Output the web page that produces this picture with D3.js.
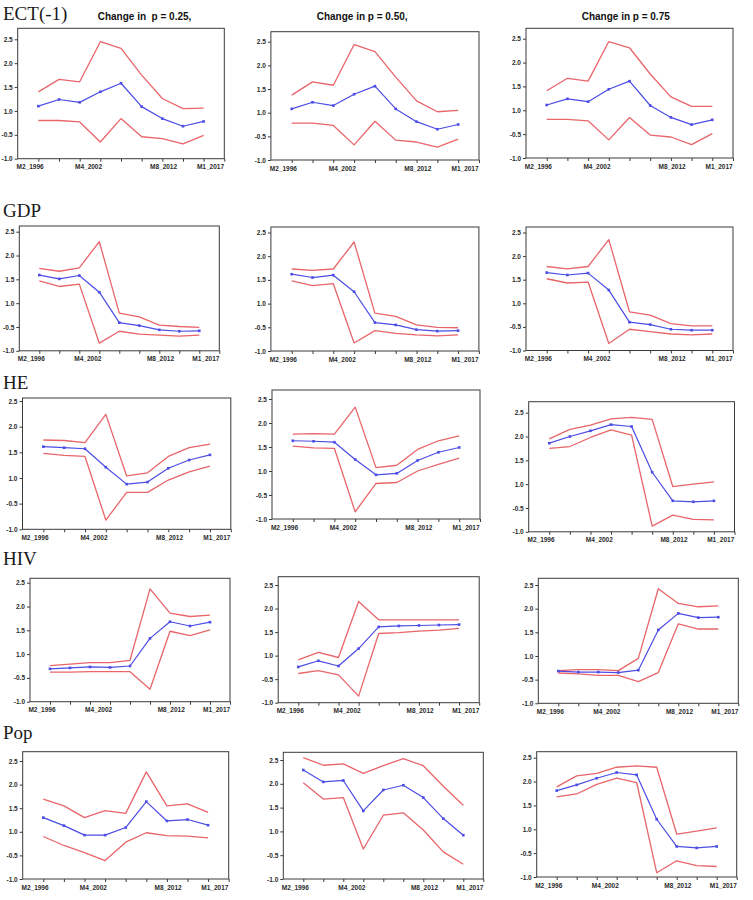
<!DOCTYPE html>
<html>
<head>
<meta charset="utf-8">
<script src="https://cdn.jsdelivr.net/npm/d3@7"></script>
<style>
  html, body { margin: 0; padding: 0; background: #fff; }
  svg { display: block; }
</style>
</head>
<body>
<svg id="chart" width="753" height="900"></svg>
<script>
// ---------- DATA ----------
const rowTitles = ["ECT(-1)", "GDP", "HE", "HIV", "Pop"];
const colTitles = ["Change in  p = 0.25,", "Change in p = 0.50,", "Change in p = 0.75"];
// y tick positions (evenly spaced) and the labels printed at them
const yTickValues = [0.0, 0.5, 1.0, 1.5, 2.0, 2.5];
const yTickLabels = ["-1.0", "-0.5", "1.0", "1.5", "2.0", "2.5"];
// x: 9 observation points (index 0..8), ticks 0..9, labels at these positions
const xTickValues = [0, 1, 2, 3, 4, 5, 6, 7, 8, 9];
const xLabelPos = [-0.4, 2.43, 6.06, 8.33];
const xLabels = ["M2_1996", "M4_2002", "M8_2012", "M1_2017"];

// values on the evenly spaced axis; [upper band, estimate, lower band]
const ect_p25_upper = [1.40, 1.66, 1.61, 2.45, 2.31, 1.75, 1.26, 1.05, 1.06];
const ect_p25_mid   = [1.10, 1.24, 1.18, 1.40, 1.58, 1.09, 0.84, 0.68, 0.78];
const ect_p25_lower = [0.80, 0.80, 0.77, 0.35, 0.84, 0.46, 0.42, 0.31, 0.49];
const ect_p50_upper = [1.37, 1.65, 1.58, 2.44, 2.29, 1.75, 1.25, 1.02, 1.05];
const ect_p50_mid   = [1.08, 1.22, 1.15, 1.39, 1.56, 1.08, 0.81, 0.65, 0.75];
const ect_p50_lower = [0.78, 0.78, 0.73, 0.32, 0.82, 0.42, 0.38, 0.27, 0.44];
const ect_p75_upper = [1.41, 1.67, 1.61, 2.44, 2.31, 1.76, 1.28, 1.08, 1.08];
const ect_p75_mid   = [1.11, 1.24, 1.18, 1.44, 1.61, 1.10, 0.85, 0.70, 0.80];
const ect_p75_lower = [0.81, 0.81, 0.78, 0.38, 0.85, 0.48, 0.44, 0.28, 0.51];

const gdp_p25_upper = [1.73, 1.67, 1.74, 2.29, 0.79, 0.71, 0.54, 0.51, 0.49];
const gdp_p25_mid   = [1.59, 1.51, 1.58, 1.23, 0.59, 0.53, 0.44, 0.41, 0.42];
const gdp_p25_lower = [1.47, 1.35, 1.40, 0.16, 0.41, 0.35, 0.33, 0.31, 0.33];
const gdp_p50_upper = [1.73, 1.70, 1.73, 2.30, 0.80, 0.73, 0.55, 0.50, 0.49];
const gdp_p50_mid   = [1.62, 1.55, 1.60, 1.25, 0.60, 0.55, 0.45, 0.42, 0.43];
const gdp_p50_lower = [1.48, 1.38, 1.42, 0.17, 0.43, 0.37, 0.34, 0.32, 0.34];
const gdp_p75_upper = [1.78, 1.73, 1.78, 2.35, 0.82, 0.75, 0.57, 0.52, 0.52];
const gdp_p75_mid   = [1.65, 1.60, 1.64, 1.28, 0.60, 0.55, 0.45, 0.43, 0.43];
const gdp_p75_lower = [1.52, 1.43, 1.45, 0.15, 0.45, 0.40, 0.35, 0.33, 0.35];

const he_p25_upper = [1.74, 1.73, 1.69, 2.24, 1.04, 1.10, 1.42, 1.59, 1.66];
const he_p25_mid   = [1.61, 1.59, 1.57, 1.21, 0.88, 0.92, 1.19, 1.35, 1.45];
const he_p25_lower = [1.48, 1.44, 1.42, 0.18, 0.72, 0.72, 0.96, 1.12, 1.23];
const he_p50_upper = [1.77, 1.78, 1.77, 2.33, 1.07, 1.12, 1.45, 1.63, 1.73];
const he_p50_mid   = [1.63, 1.62, 1.60, 1.24, 0.92, 0.95, 1.22, 1.39, 1.49];
const he_p50_lower = [1.52, 1.48, 1.47, 0.15, 0.74, 0.76, 1.00, 1.14, 1.27];
const he_p75_upper = [1.95, 2.15, 2.24, 2.37, 2.40, 2.36, 0.95, 1.00, 1.05];
const he_p75_mid   = [1.86, 2.00, 2.12, 2.25, 2.21, 1.25, 0.65, 0.63, 0.65];
const he_p75_lower = [1.75, 1.79, 1.98, 2.14, 2.03, 0.12, 0.35, 0.26, 0.25];

const hiv_p25_upper = [0.76, 0.79, 0.82, 0.82, 0.87, 2.37, 1.86, 1.79, 1.82];
const hiv_p25_mid   = [0.69, 0.71, 0.73, 0.72, 0.75, 1.33, 1.68, 1.59, 1.67];
const hiv_p25_lower = [0.62, 0.62, 0.63, 0.63, 0.63, 0.26, 1.48, 1.39, 1.51];
const hiv_p50_upper = [0.91, 1.07, 0.96, 2.15, 1.76, 1.76, 1.76, 1.76, 1.76];
const hiv_p50_mid   = [0.76, 0.89, 0.78, 1.15, 1.61, 1.63, 1.64, 1.65, 1.66];
const hiv_p50_lower = [0.62, 0.68, 0.59, 0.14, 1.47, 1.49, 1.52, 1.54, 1.58];
const hiv_p75_upper = [0.69, 0.71, 0.71, 0.69, 0.95, 2.42, 2.11, 2.04, 2.06];
const hiv_p75_mid   = [0.68, 0.66, 0.66, 0.65, 0.70, 1.55, 1.90, 1.81, 1.82];
const hiv_p75_lower = [0.64, 0.62, 0.59, 0.59, 0.46, 0.65, 1.68, 1.57, 1.57];

const pop_p25_upper = [1.69, 1.55, 1.30, 1.45, 1.39, 2.27, 1.55, 1.59, 1.41];
const pop_p25_mid   = [1.30, 1.13, 0.93, 0.93, 1.09, 1.64, 1.23, 1.26, 1.14];
const pop_p25_lower = [0.90, 0.71, 0.56, 0.39, 0.78, 0.98, 0.92, 0.91, 0.87];
const pop_p50_upper = [2.55, 2.39, 2.42, 2.22, 2.38, 2.53, 2.38, 1.95, 1.55];
const pop_p50_mid   = [2.29, 2.04, 2.07, 1.43, 1.87, 1.97, 1.71, 1.27, 0.92];
const pop_p50_lower = [2.02, 1.68, 1.71, 0.63, 1.34, 1.39, 1.03, 0.57, 0.31];
const pop_p75_upper = [1.89, 2.12, 2.17, 2.30, 2.33, 2.30, 0.90, 0.96, 1.03];
const pop_p75_mid   = [1.81, 1.93, 2.07, 2.19, 2.14, 1.21, 0.64, 0.61, 0.64];
const pop_p75_lower = [1.68, 1.74, 1.94, 2.07, 1.98, 0.09, 0.34, 0.24, 0.22];

const panelSeries = [
  [[ect_p25_upper, ect_p25_mid, ect_p25_lower], [ect_p50_upper, ect_p50_mid, ect_p50_lower], [ect_p75_upper, ect_p75_mid, ect_p75_lower]],
  [[gdp_p25_upper, gdp_p25_mid, gdp_p25_lower], [gdp_p50_upper, gdp_p50_mid, gdp_p50_lower], [gdp_p75_upper, gdp_p75_mid, gdp_p75_lower]],
  [[he_p25_upper, he_p25_mid, he_p25_lower], [he_p50_upper, he_p50_mid, he_p50_lower], [he_p75_upper, he_p75_mid, he_p75_lower]],
  [[hiv_p25_upper, hiv_p25_mid, hiv_p25_lower], [hiv_p50_upper, hiv_p50_mid, hiv_p50_lower], [hiv_p75_upper, hiv_p75_mid, hiv_p75_lower]],
  [[pop_p25_upper, pop_p25_mid, pop_p25_lower], [pop_p50_upper, pop_p50_mid, pop_p50_lower], [pop_p75_upper, pop_p75_mid, pop_p75_lower]]
];

// ---------- LAYOUT (pixel geometry of each pasted panel) ----------
// left, right, frame top, y of the top tick (2.5), y of bottom tick (-1.0)
const panelBoxes = [
  [[17.7, 224.3, 28.3, 39.3, 158.7], [270.9, 479.0, 31.7, 41.7, 160.0], [526.0, 733.0, 28.3, 38.7, 158.0]],
  [[19.3, 219.3, 226.0, 231.7, 350.8], [270.9, 478.9, 227.0, 232.5, 351.0], [526.0, 733.0, 227.0, 232.5, 350.5]],
  [[22.5, 230.8, 398.0, 401.0, 529.3], [272.0, 480.0, 390.0, 399.0, 519.0], [528.7, 734.5, 401.7, 412.7, 531.8]],
  [[30.0, 230.0, 578.3, 582.7, 701.7], [278.2, 479.2, 576.7, 585.0, 702.7], [538.3, 738.3, 578.3, 585.0, 703.3]],
  [[22.7, 228.7, 751.7, 761.0, 879.0], [283.3, 483.3, 752.3, 760.0, 879.0], [536.7, 736.7, 751.7, 757.7, 877.0]]
];
const rowTitleBaselines = [19.5, 216.5, 389.3, 565, 738.5];
const colTitleX = [97.7, 316.7, 581.7];

const RED = "#e8656a", BLUE = "#4c4ce6", FRAME = "#3a3a3a", TXT = "#2b2b2b";
const svg = d3.select("#chart");

// titles
svg.selectAll("text.rowtitle").data(rowTitles).join("text")
  .attr("class", "rowtitle")
  .attr("x", 3).attr("y", (d, i) => rowTitleBaselines[i])
  .attr("font-family", "'Liberation Serif', 'DejaVu Serif', serif")
  .attr("font-size", 19).attr("fill", "#1a1a1a")
  .text(d => d);

svg.selectAll("text.coltitle").data(colTitles).join("text")
  .attr("class", "coltitle")
  .attr("x", (d, i) => colTitleX[i]).attr("y", 20)
  .attr("font-family", "'Liberation Sans', Arial, sans-serif")
  .attr("font-weight", "bold").attr("font-size", 10).attr("fill", "#111")
  .attr("xml:space", "preserve")
  .style("white-space", "pre")
  .text(d => d);

const line = (x, y) => d3.line().x((d, i) => x(i)).y(d => y(d));

panelSeries.forEach((row, r) => {
  row.forEach((series, c) => {
    const [left, right, top, y25, ym1] = panelBoxes[r][c];
    const y = d3.scaleLinear().domain([0, 2.5]).range([ym1, y25]);
    const yTop = y.invert(top);
    y.domain([0, 2.5]);
    const x = d3.scaleLinear().domain([-1, 9]).range([left, right]);
    const g = svg.append("g");

    // frame
    g.append("rect")
      .attr("x", left).attr("y", top)
      .attr("width", right - left).attr("height", ym1 - top)
      .attr("fill", "none").attr("stroke", FRAME).attr("stroke-width", 1);

    // y axis
    const yAxis = d3.axisLeft(y).tickValues(yTickValues).tickSize(3).tickPadding(2)
      .tickFormat((d, i) => yTickLabels[i]);
    const ga = g.append("g").attr("transform", `translate(${left},0)`).call(yAxis);
    ga.select(".domain").remove();
    ga.selectAll("line").attr("stroke", FRAME);
    ga.selectAll("text").attr("font-family", "'Liberation Sans', Arial, sans-serif")
      .attr("font-size", 6.5).attr("font-weight", "bold").attr("fill", TXT);

    // x axis ticks
    const xAxis = d3.axisBottom(x).tickValues(xTickValues).tickSize(3).tickFormat("");
    const gx = g.append("g").attr("transform", `translate(0,${ym1})`).call(xAxis);
    gx.select(".domain").remove();
    gx.selectAll("line").attr("stroke", FRAME);
    // x labels
    g.selectAll("text.xl").data(xLabels).join("text")
      .attr("class", "xl")
      .attr("x", (d, i) => x(xLabelPos[i])).attr("y", ym1 + 10.5)
      .attr("text-anchor", "middle")
      .attr("font-family", "'Liberation Sans', Arial, sans-serif")
      .attr("font-size", 6.5).attr("font-weight", "bold").attr("fill", TXT)
      .text(d => d);

    // lines
    const [upper, mid, lower] = series;
    [upper, lower].forEach(s => {
      g.append("path").datum(s).attr("d", line(x, y))
        .attr("fill", "none").attr("stroke", RED).attr("stroke-width", 1.3)
        .attr("stroke-linejoin", "round");
    });
    g.append("path").datum(mid).attr("d", line(x, y))
      .attr("fill", "none").attr("stroke", BLUE).attr("stroke-width", 1.2)
      .attr("stroke-linejoin", "round");
    g.selectAll("rect.mk").data(mid).join("rect")
      .attr("class", "mk")
      .attr("x", (d, i) => x(i) - 1.3).attr("y", d => y(d) - 1.3)
      .attr("width", 2.6).attr("height", 2.6).attr("fill", BLUE);
  });
});
</script>
</body>
</html>
